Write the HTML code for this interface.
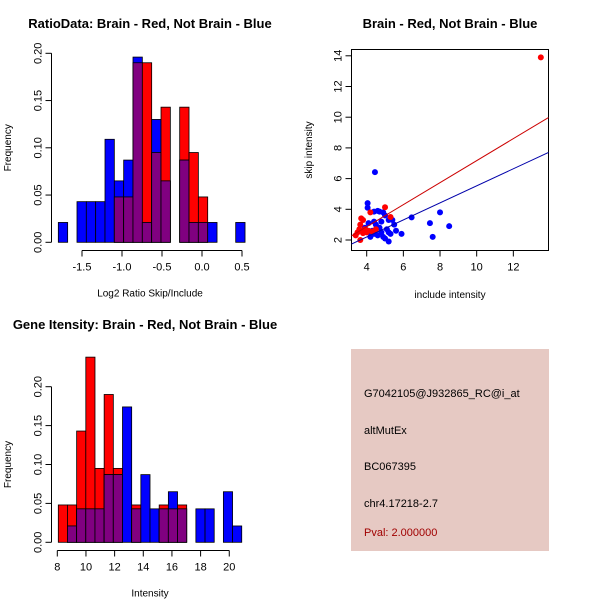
<!DOCTYPE html>
<html><head><meta charset="utf-8"><style>
body{margin:0;background:#fff}
svg{display:block;font-family:"Liberation Sans",sans-serif}
</style></head><body>
<svg id="c" width="600" height="600" xmlns="http://www.w3.org/2000/svg">
<rect x="0" y="0" width="600" height="600" fill="#fff"/>
<g id="p1"></g>
<g id="p2"></g>
<g id="p3"></g>
<g id="p4">
<rect x="351" y="349" width="198" height="202" fill="#e6c9c3"/>
<text x="364" y="397" font-size="11" fill="#000">G7042105@J932865_RC@i_at</text>
<text x="364" y="434" font-size="11" fill="#000">altMutEx</text>
<text x="364" y="470" font-size="11" fill="#000">BC067395</text>
<text x="364" y="507" font-size="11" fill="#000">chr4.17218-2.7</text>
<text x="364" y="536" font-size="11" fill="#a00000">Pval: 2.000000</text>
</g>
</svg>
<script>
// ---- Plot 1 data (ratio histogram)
const ratioBinStart = -1.796;
const ratioBinWidth = 0.1167;
const ratioBlue = [0.021,0,0.043,0.043,0.043,0.109,0.065,0.087,0.196,0.021,0.130,0.065,0,0.087,0.021,0.021,0.021,0,0,0.021];
const ratioRed  = [0,0,0,0,0,0,0.048,0.048,0.19,0.19,0.095,0.143,0,0.143,0.095,0.048,0,0,0,0];
const ratioXTicks = [-1.5,-1.0,-0.5,0.0,0.5];
const ratioXLabels = ["-1.5","-1.0","-0.5","0.0","0.5"];
const ratioYTicks = [0,0.05,0.10,0.15,0.20];
const ratioYLabels = ["0.00","0.05","0.10","0.15","0.20"];
// ---- Plot 3 data (gene intensity histogram)
const intBinStart = 8.07;
const intBinWidth = 0.64;
const intBlue = [0,0.021,0.043,0.043,0.043,0.087,0.087,0.174,0.043,0.087,0.043,0.043,0.065,0.043,0,0.043,0.043,0,0.065,0.021];
const intRed  = [0.048,0.048,0.143,0.238,0.095,0.19,0.095,0,0.048,0,0,0.048,0.043,0.048,0,0,0,0,0,0];
const intXTicks = [8,10,12,14,16,18,20];
const intYTicks = [0,0.05,0.10,0.15,0.20];
const intYLabels = ["0.00","0.05","0.10","0.15","0.20"];
// ---- Plot 2 data (scatter)
const redX = [13.5,3.7,3.8,3.65,4.2,5.0,3.65,5.3,3.5,3.7,3.9,4.0,3.6,3.8,4.1,4.3,3.4,4.5];
const redY = [13.9,3.41,3.3,3.0,3.8,4.13,2.0,3.5,2.5,2.6,2.7,2.5,2.7,2.45,2.6,2.55,2.3,2.7];
const blueX = [4.45,4.05,4.05,4.4,4.6,4.7,4.9,5.3,5.2,5.5,6.45,7.45,8.0,8.5,7.6,5.9,5.6,5.2,4.5,4.8,4.2,4.4,4.6,4.9,5.0,5.3,5.2,4.7,4.1,3.9,4.4,5.4,5.1,4.3,4.8,5.0,4.2];
const blueY = [6.42,4.4,4.1,3.85,3.9,3.85,3.8,3.4,3.3,3.0,3.47,3.1,3.8,2.9,2.2,2.4,2.6,1.9,3.0,3.2,2.5,2.4,2.3,2.2,2.1,2.4,2.5,2.8,3.1,2.8,3.2,3.3,2.7,2.6,2.5,3.6,2.2];
const redSlope = 0.717, redIntercept = 0.0;
const blueSlope = 0.555, blueIntercept = -0.02;
const scXTicks = [4,6,8,10,12];
const scYTicks = [2,4,6,8,10,12,14];

const NS = "http://www.w3.org/2000/svg";
function mk(parent, tag, attrs, txt){
  const e = document.createElementNS(NS, tag);
  for (const k in attrs) e.setAttribute(k, attrs[k]);
  if (txt !== undefined) e.textContent = txt;
  parent.appendChild(e);
  return e;
}

function histogram(g, o){
  const sx = v => o.x0 + (v - o.xv0) * o.kx;
  const sy = v => o.y0 - v * o.ky;
  for (let i=0;i<o.blue.length;i++){
    const l = o.start + i*o.width, r = l + o.width;
    const b = o.blue[i], rd = o.red[i], m = Math.min(b, rd);
    const layers = [[rd,'#ff0000','red'],[b,'#0000ff','blue'],[m,'#800080','overlap']];
    layers.forEach(([v,c,n])=>{
      if (v<=0) return;
      const e = mk(g,'rect',{x:sx(l),y:sy(v),width:sx(r)-sx(l),height:sy(0)-sy(v),fill:c,stroke:'#000','stroke-width':0.8});
      
      
    });
  }
  const ax = mk(g,'g',{});
  
  
  mk(ax,'line',{x1:sx(o.xticks[0]),x2:sx(o.xticks[o.xticks.length-1]),y1:o.xaxY,y2:o.xaxY,stroke:'#000'});
  o.xticks.forEach((t,i)=>{
    mk(ax,'line',{x1:sx(t),x2:sx(t),y1:o.xaxY,y2:o.xaxY+6,stroke:'#000'});
    const tx = mk(ax,'text',{x:sx(t),y:o.xaxY+20,'font-size':11,'text-anchor':'middle'},o.xlabels[i]);
    
    
  });
  const ay = mk(g,'g',{});
  
  
  mk(ay,'line',{x1:o.yaxX,x2:o.yaxX,y1:sy(o.yticks[0]),y2:sy(o.yticks[o.yticks.length-1]),stroke:'#000'});
  o.yticks.forEach((t,i)=>{
    mk(ay,'line',{x1:o.yaxX-6,x2:o.yaxX,y1:sy(t),y2:sy(t),stroke:'#000'});
    const tx = mk(ay,'text',{x:o.yaxX-10,y:sy(t),'font-size':11,'text-anchor':'middle',transform:`rotate(-90 ${o.yaxX-10} ${sy(t)})`},o.ylabels[i]);
    
    
  });
  const t1 = mk(g,'text',{x:o.titleX,y:o.titleY,'font-size':13,'font-weight':'bold','text-anchor':'middle'},o.title);
  
  
  const t2 = mk(g,'text',{x:o.xlabX,y:o.xaxY+46,'font-size':10,'text-anchor':'middle'},o.xlab);
  
  
  const ymid = (sy(0)+sy(o.yticks[o.yticks.length-1]))/2;
  const t3 = mk(g,'text',{x:11,y:ymid,'font-size':10,'text-anchor':'middle',transform:`rotate(-90 11 ${ymid})`},'Frequency');
  
  
}

histogram(document.getElementById('p1'),{
  blue:ratioBlue, red:ratioRed, start:ratioBinStart, width:ratioBinWidth,
  x0:82, xv0:-1.5, kx:80, y0:242.3, ky:945,
  xticks:ratioXTicks, xlabels:ratioXLabels, yticks:ratioYTicks, ylabels:ratioYLabels,
  xaxY:250.5, yaxX:51.5, title:'RatioData: Brain - Red, Not Brain - Blue', titleX:150, titleY:28,
  xlab:'Log2 Ratio Skip/Include', xlabX:150
});
histogram(document.getElementById('p3'),{
  blue:intBlue, red:intRed, start:intBinStart, width:intBinWidth,
  x0:57.3, xv0:8, kx:14.33, y0:542.3, ky:778,
  xticks:intXTicks, xlabels:intXTicks.map(String), yticks:intYTicks, ylabels:intYLabels,
  xaxY:550.5, yaxX:51.5, title:'Gene Itensity: Brain - Red, Not Brain - Blue', titleX:145, titleY:329,
  xlab:'Intensity', xlabX:150
});

(function(){
  const g = document.getElementById('p2');
  const L=351.5,R=548.5,T=49.5,B=250.5;
  const sx = v => 366.7 + (v-4)*18.33;
  const sy = v => 240 - (v-2)*15.35;
  const box = mk(g,'rect',{x:L,y:T,width:R-L,height:B-T,fill:'none',stroke:'#000'});
  
  
  const cp = mk(g,'clipPath',{id:'scclip'});
  mk(cp,'rect',{x:L,y:T,width:R-L,height:B-T});
  const xl = (L-366.7)/18.33+4, xr=(R-366.7)/18.33+4;
  const inner = mk(g,'g',{'clip-path':'url(#scclip)'});
  blueX.forEach((x,i)=>{
    const c = mk(inner,'circle',{cx:sx(x),cy:sy(blueY[i]),r:3,fill:'#0000ff'});
    
    
  });
  redX.forEach((x,i)=>{
    const c = mk(inner,'circle',{cx:sx(x),cy:sy(redY[i]),r:3,fill:'#ff0000'});
    
    
  });
  const rl = mk(inner,'line',{x1:sx(xl),y1:sy(redSlope*xl+redIntercept),x2:sx(xr),y2:sy(redSlope*xr+redIntercept),stroke:'#cc0000','stroke-width':1});
  
  
  const bl = mk(inner,'line',{x1:sx(xl),y1:sy(blueSlope*xl+blueIntercept),x2:sx(xr),y2:sy(blueSlope*xr+blueIntercept),stroke:'#0000aa','stroke-width':1});
  
  
  scXTicks.forEach(t=>{
    mk(g,'line',{x1:sx(t),x2:sx(t),y1:B,y2:B+6,stroke:'#000'});
    const tx = mk(g,'text',{x:sx(t),y:B+20,'font-size':11,'text-anchor':'middle'},String(t));
    
    
  });
  scYTicks.forEach(t=>{
    mk(g,'line',{x1:L-6,x2:L,y1:sy(t),y2:sy(t),stroke:'#000'});
    const tx = mk(g,'text',{x:L-10,y:sy(t),'font-size':11,'text-anchor':'middle',transform:`rotate(-90 ${L-10} ${sy(t)})`},String(t));
    
    
  });
  const t1 = mk(g,'text',{x:450,y:28,'font-size':13,'font-weight':'bold','text-anchor':'middle'},'Brain - Red, Not Brain - Blue');
  
  
  const t2 = mk(g,'text',{x:450,y:298,'font-size':10,'text-anchor':'middle'},'include intensity');
  
  
  const t3 = mk(g,'text',{x:312,y:150,'font-size':10,'text-anchor':'middle',transform:'rotate(-90 312 150)'},'skip intensity');
  
  
})();
</script>
</body></html>
